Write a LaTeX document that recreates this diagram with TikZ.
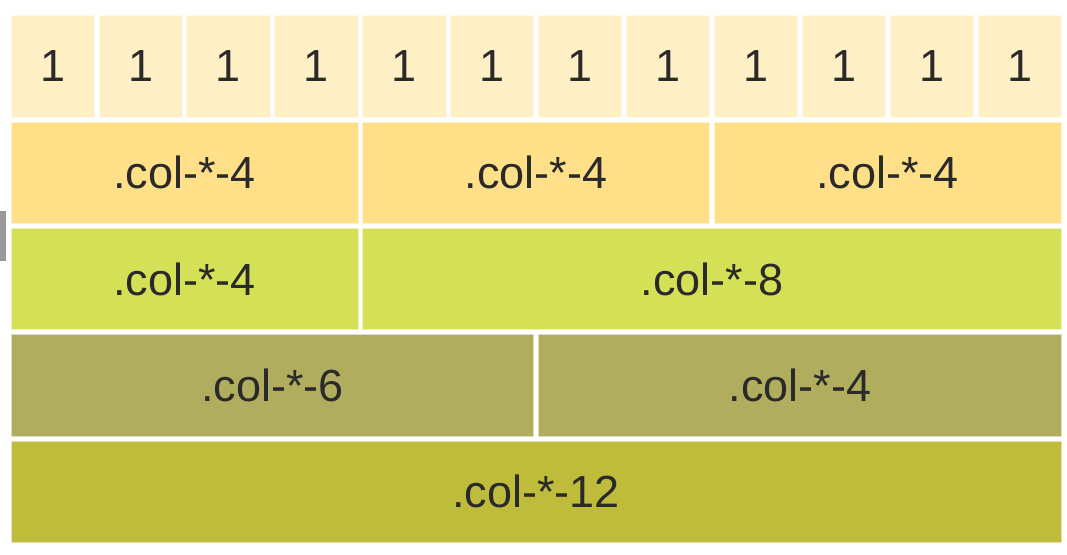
\documentclass[tikz,border=0pt]{standalone}
\usepackage{fontspec}
\setmainfont{Liberation Sans}
\definecolor{cOne}{HTML}{FFEFC4}
\definecolor{cTwo}{HTML}{FFDF88}
\definecolor{cThree}{HTML}{D4E055}
\definecolor{cFour}{HTML}{B0AE5E}
\definecolor{cFive}{HTML}{BFBC3C}
\definecolor{txt}{HTML}{2A2A2A}
\definecolor{grayMark}{HTML}{999999}
\tikzset{
  cell/.style={anchor=north west, inner sep=0pt, outer sep=0pt,
    minimum height=101.3pt, text=txt, font=\fontsize{45}{50}\selectfont,
    draw=white!60!#1, line width=0.8pt, fill=#1},
}
\begin{document}
\begin{tikzpicture}[x=1pt,y=-1pt]
\useasboundingbox (0,0) rectangle (1067,554);
\fill[white] (0,0) rectangle (1067,554);
% pitch 87.9, gap 4.6
\foreach \i in {0,...,11}{
  \node[cell=cOne, minimum width=83.3pt] (one\i) at ({11+87.9*\i},15.7) {1};
}
% row 2
\node[cell=cTwo, minimum width=347pt] (twoA) at (11,122) {.col-*-4};
\node[cell=cTwo, minimum width=347pt] (twoB) at ({11+87.9*4},122) {.col-*-4};
\node[cell=cTwo, minimum width=347pt] (twoC) at ({11+87.9*8},122) {.col-*-4};
% row 3
\node[cell=cThree, minimum width=347pt] (threeA) at (11,228.3) {.col-*-4};
\node[cell=cThree, minimum width=698.6pt] (threeB) at ({11+87.9*4},228.3) {.col-*-8};
% row 4
\node[cell=cFour, minimum width=522.8pt] (fourA) at (11,334.6) {.col-*-6};
\node[cell=cFour, minimum width=522.8pt] (fourB) at ({11+87.9*6},334.6) {.col-*-4};
% row 5
\node[cell=cFive, minimum width=1050pt] (five) at (11,441) {.col-*-12};
% left gray mark
\fill[grayMark] (0,211) rectangle (6,260.7);
\end{tikzpicture}
\end{document}
